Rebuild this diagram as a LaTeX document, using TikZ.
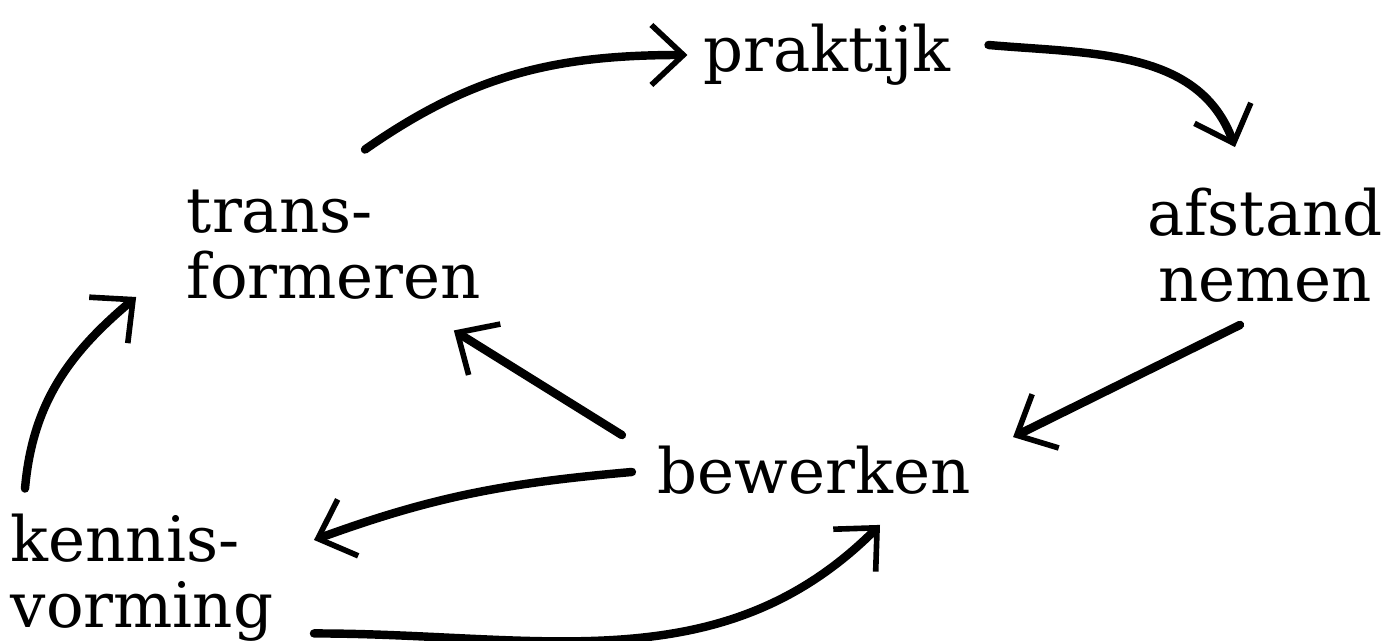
\documentclass[tikz,border=0pt]{standalone}
\usepackage{fontspec}
\setmainfont{DejaVu Serif}
\usetikzlibrary{arrows.meta}

\tikzset{
  word/.style={inner sep=0pt, font=\fontsize{17.8}{18.8}\selectfont},
  flow/.style={line width=2.4pt, line cap=round,
    -{Straight Barb[length=3.2mm,width=6mm,line width=1.6pt]}},
}

\begin{document}
\begin{tikzpicture}[x=0.1mm,y=0.1mm]
  \useasboundingbox (0,0) rectangle (1398,641);
  % steps of the cycle
  \node[word] (prak) at (827,586) {praktijk};
  \node[word,align=left] (trans) at (334,396) {trans-\\formeren};
  \node[word,align=center] (afst) at (1265,396) {afstand\\nemen};
  \node[word] (bew) at (814,171) {bewerken};
  \node[word,align=left] (kenn) at (142,63) {kennis-\\vorming};

  \draw[flow] ([shift={(31,40)}]trans.north) to[out=35,in=180] ([shift={(-15,0)}]prak.west);
  \draw[flow] ([shift={(37,10)}]prak.east) to[out=-5,in=110] ([shift={(-30,40)}]afst.north);
  \draw[flow] ([shift={(-25,-22)}]afst.south) -- ([shift={(42,8)}]bew.north east);
  \draw[flow] ([shift={(-35,10)}]bew.north west) -- ([shift={(-28,-30)}]trans.south east);
  \draw[flow] ([shift={(-25,-2)}]bew.west) to[out=185,in=20] ([shift={(40,38)}]kenn.east);
  \draw[flow] ([shift={(40,9)}]kenn.south east) to[out=0,in=225] ([shift={(66,-30)}]bew.south);
  \draw[flow] ([shift={(15,25)}]kenn.north west) to[out=85,in=220] ([shift={(-50,-52)}]trans.west);
\end{tikzpicture}
\end{document}
